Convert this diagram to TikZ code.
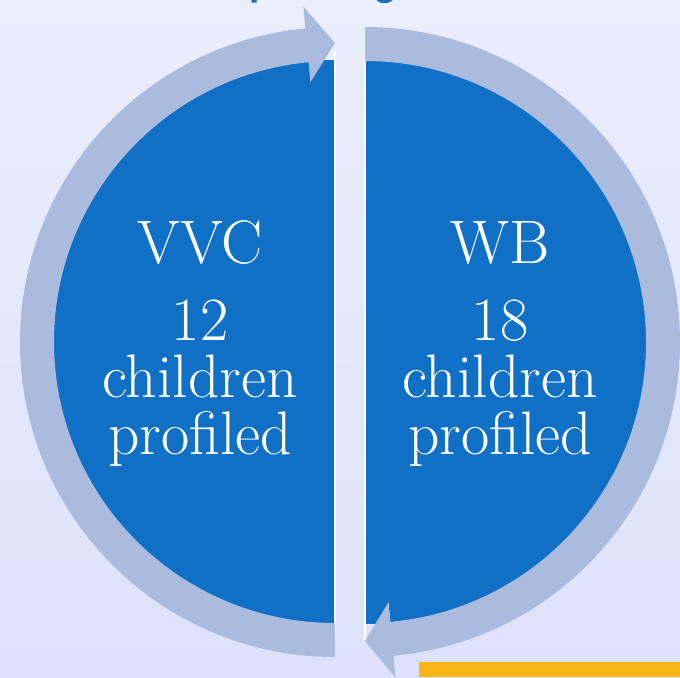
\documentclass[tikz,border=0pt]{standalone}
\usepackage{fontspec}
\newfontfamily\titlefont{Carlito}
\usetikzlibrary{positioning}
\definecolor{bgtop}{HTML}{EAEEFD}
\definecolor{bgbot}{HTML}{DCE2FB}
\definecolor{ringblue}{HTML}{ABBBDE}
\definecolor{diskblue}{HTML}{1070C5}
\definecolor{titleblue}{HTML}{1570C0}
\definecolor{baryellow}{HTML}{F9B418}
\tikzset{
	half/.style={fill=diskblue},
	edge/.style={draw=white, line width=1.7pt},
	ringarrow/.style={fill=ringblue},
	count/.style={text=white, align=center, inner sep=0pt, font=\fontsize{35}{32.5}\selectfont},
	% cut-off heading at the top edge
	heading/.style={anchor=base west, inner sep=0pt, text=titleblue, font=\titlefont\bfseries\fontsize{24}{28}\selectfont},
}

\begin{document}
\begin{tikzpicture}[x=0.02cm, y=0.02cm]
	\useasboundingbox (0,0) rectangle (680,677);
	\shade[top color=bgtop, bottom color=bgbot] (0,0) rectangle (680,677);
	
	\begin{scope}
		\clip (0,0) rectangle (680,677);
		\node (title) [heading] at (249,680) {profiling};
	\end{scope}
	
	% left half and its arrow
	\begin{scope}[shift={(335,335)}]
		\fill[half] (0,282) arc[start angle=90, end angle=270, radius=282] -- cycle;
		\draw[edge] (0,290) -- (0,-295);
		\fill[ringarrow] (270:281) -- (270:315) arc[start angle=270, end angle=95.4, radius=315]
			-- (95.4:337) -- (90:299) -- (95.4:261) -- (95.4:281)
			arc[start angle=95.4, end angle=270, radius=281] -- cycle;
	\end{scope}
	
	% right half and its arrow
	\begin{scope}[shift={(365,335)}]
		\fill[half] (0,282) arc[start angle=90, end angle=-90, radius=282] -- cycle;
		\draw[edge] (0,282) -- (0,-300);
		\fill[ringarrow] (90:281) -- (90:315) arc[start angle=90, end angle=-84.8, radius=315]
			-- (-84.8:337) -- (-90:299) -- (-84.8:261) -- (-84.8:281)
			arc[start angle=-84.8, end angle=90, radius=281] -- cycle;
	\end{scope}
	
	\fill[baryellow] (419,0) rectangle (680,15);
	
	\node (vvc) [count] at (200,434) {VVC};
	\node (vvcinfo) [count] at (200,294) {12\\children\\profiled};
	\node (wb) [count] at (500,434) {WB};
	\node (wbinfo) [count] at (500,294) {18\\children\\profiled};
\end{tikzpicture}
\end{document}
